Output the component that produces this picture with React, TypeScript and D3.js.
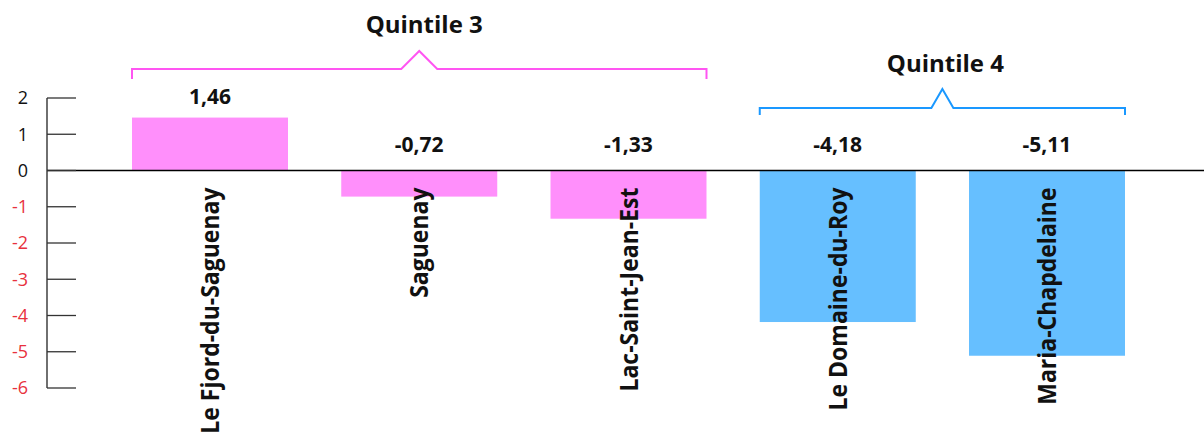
import React from "react";
import * as d3 from "d3";

const categories = [
  "Le Fjord-du-Saguenay",
  "Saguenay",
  "Lac-Saint-Jean-Est",
  "Le Domaine-du-Roy",
  "Maria-Chapdelaine",
];
const values = [1.46, -0.72, -1.33, -4.18, -5.11];
const categoryGroup = [0, 0, 0, 1, 1];
const groupNames = ["Quintile 3", "Quintile 4"];
const yTicks = [2, 1, 0, -1, -2, -3, -4, -5, -6];

const W = 1204;
const H = 436;
const FONT = "'Open Sans', 'Noto Sans', sans-serif";
const barColors = ["#ff8ffb", "#66bfff"];
const bracketColors = ["#ff55f2", "#1a98ff"];
const negRed = "#e8313d";

// per-group bracket layout
const bracketLayout = [
  { lineY: 69, drop: 10, peakY: 51, half: 18, titleY: 33, titleDx: 5 },
  { lineY: 108, drop: 7, peakY: 89, half: 11, titleY: 72, titleDx: 3 },
];

const fmt = (v: number) => d3.format(".2f")(v).replace(".", ",").replace("−", "-");

export default function App() {
  const y = d3.scaleLinear().domain([-6, 2]).range([388, 98]);
  const x = d3
    .scaleBand<string>()
    .domain(categories)
    .range([132, 1125])
    .paddingInner(0.2545)
    .paddingOuter(0);
  const bw = x.bandwidth();
  const axisX = 47;
  const tickLen = 29;

  const groups = groupNames.map((name, gi) => {
    const idx = categories.map((_, i) => i).filter((i) => categoryGroup[i] === gi);
    const x0 = x(categories[idx[0]])!;
    const x1 = x(categories[idx[idx.length - 1]])! + bw;
    return { name, gi, x0, x1 };
  });

  return (
    <svg
      width={W}
      height={H}
      style={{ position: "absolute", left: 0, top: 0, background: "#fff" }}
      fontFamily={FONT}
    >
      {/* bars */}
      {categories.map((c, i) => {
        const v = values[i];
        return (
          <rect
            key={c}
            x={x(c)}
            y={v >= 0 ? y(v) : y(0)}
            width={bw}
            height={Math.abs(y(v) - y(0))}
            fill={barColors[categoryGroup[i]]}
          />
        );
      })}

      {/* zero line */}
      <line x1={axisX} x2={W} y1={y(0)} y2={y(0)} stroke="#000" strokeWidth={1.3} />

      {/* y axis */}
      <line x1={axisX} x2={axisX} y1={y(2)} y2={y(-6)} stroke="#222" strokeWidth={1.3} />
      {yTicks.map((t) => (
        <g key={t}>
          <line x1={axisX} x2={axisX + tickLen} y1={y(t)} y2={y(t)} stroke="#333" strokeWidth={1.3} />
          <text
            x={28}
            y={y(t)}
            dy="0.36em"
            textAnchor="end"
            fontSize={18}
            fill={t < 0 ? negRed : "#111"}
          >
            {t < 0 ? "-" + Math.abs(t) : String(t)}
          </text>
        </g>
      ))}

      {/* value labels */}
      {categories.map((c, i) => {
        const v = values[i];
        const cx = x(c)! + bw / 2;
        const ly = v >= 0 ? y(v) - 14 : y(0) - 18.5;
        return (
          <text
            key={"v" + c}
            x={cx}
            y={ly}
            textAnchor="middle"
            fontSize={21}
            fontWeight={700}
            fill="#111"
          >
            {fmt(v)}
          </text>
        );
      })}

      {/* category labels */}
      {categories.map((c) => {
        const cx = x(c)! + bw / 2;
        return (
          <g key={"c" + c} transform={`translate(${cx},${y(0) + 17}) rotate(-90) scale(0.92,1)`}>
            <text x={0} y={0} dy="0.36em" textAnchor="end" fontSize={25} fontWeight={700} fill="#111">
              {c}
            </text>
          </g>
        );
      })}

      {/* brackets */}
      {groups.map((g) => {
        const L = bracketLayout[g.gi];
        const mid = (g.x0 + g.x1) / 2;
        const path = d3.path();
        path.moveTo(g.x0, L.lineY + L.drop);
        path.lineTo(g.x0, L.lineY);
        path.lineTo(mid - L.half, L.lineY);
        path.lineTo(mid, L.peakY);
        path.lineTo(mid + L.half, L.lineY);
        path.lineTo(g.x1, L.lineY);
        path.lineTo(g.x1, L.lineY + L.drop);
        return (
          <g key={g.name}>
            <path d={path.toString()} fill="none" stroke={bracketColors[g.gi]} strokeWidth={2} />
            <text
              x={mid + L.titleDx}
              y={L.titleY}
              textAnchor="middle"
              fontSize={24}
              fontWeight={700}
              fill="#111"
            >
              {g.name}
            </text>
          </g>
        );
      })}
    </svg>
  );
}
